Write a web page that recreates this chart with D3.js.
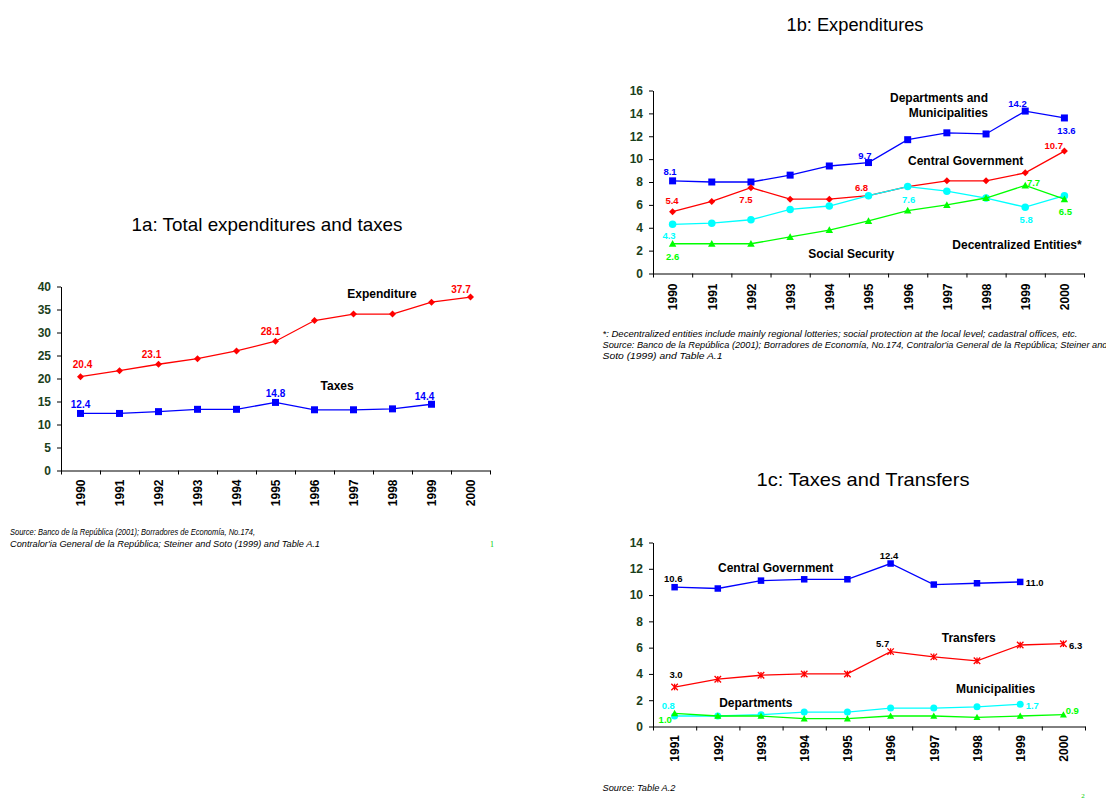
<!DOCTYPE html>
<html>
<head>
<meta charset="utf-8">
<script src="https://cdn.jsdelivr.net/npm/d3@7/dist/d3.min.js"></script>
<style>
  html, body { margin: 0; padding: 0; background: #fff; }
  svg { display: block; font-family: "Liberation Sans", Arial, sans-serif; }
</style>
</head>
<body>
<svg id="page" width="1106" height="800"></svg>
<script>
// ---------- 1a: Total expenditures and taxes (% of GDP) ----------
const years1a = ["1990","1991","1992","1993","1994","1995","1996","1997","1998","1999","2000"];
const expenditure = [20.4, 21.7, 23.1, 24.3, 26.0, 28.1, 32.6, 34.0, 34.0, 36.6, 37.7];
const taxes       = [12.4, 12.4, 12.8, 13.3, 13.3, 14.8, 13.2, 13.2, 13.4, 14.4, null];
const yTicks1a = [0, 5, 10, 15, 20, 25, 30, 35, 40];

// ---------- 1b: Expenditures by level of government ----------
const years1b = ["1990","1991","1992","1993","1994","1995","1996","1997","1998","1999","2000"];
const deptMunicipalities = [8.1, 8.0, 8.0, 8.6, 9.4, 9.7, 11.7, 12.3, 12.2, 14.2, 13.6];
const centralGovExp      = [5.4, 6.3, 7.5, 6.5, 6.5, 6.8, 7.6, 8.1, 8.1, 8.8, 10.7];
const decentralized      = [4.3, 4.4, 4.7, 5.6, 5.9, 6.8, 7.6, 7.2, 6.6, 5.8, 6.8];
const socialSecurity     = [2.6, 2.6, 2.6, 3.2, 3.8, 4.6, 5.5, 6.0, 6.6, 7.7, 6.5];
const yTicks1b = [0, 2, 4, 6, 8, 10, 12, 14, 16];

// ---------- 1c: Taxes and transfers ----------
const years1c = ["1991","1992","1993","1994","1995","1996","1997","1998","1999","2000"];
const centralGovTax  = [10.6, 10.5, 11.1, 11.2, 11.2, 12.4, 10.8, 10.9, 11.0, null];
const transfers      = [3.0, 3.6, 3.9, 4.0, 4.0, 5.7, 5.3, 5.0, 6.2, 6.3];
const municipalities = [0.8, 0.8, 0.9, 1.1, 1.1, 1.4, 1.4, 1.5, 1.7, null];
const departments    = [1.0, 0.8, 0.8, 0.6, 0.6, 0.8, 0.8, 0.7, 0.8, 0.9];
const yTicks1c = [0, 2, 4, 6, 8, 10, 12, 14];

const svg = d3.select("#page");
const TICK_COLOR = "#1b3f1b";

// marker shapes, centred at 0,0
function markerPath(type, s) {
  const r = s / 2;
  switch (type) {
    case "square":   return `M${-r},${-r}H${r}V${r}H${-r}Z`;
    case "diamond":  return `M0,${-r}L${r},0L0,${r}L${-r},0Z`;
    case "triangle": return `M0,${-r}L${r},${r * 0.8}L${-r},${r * 0.8}Z`;
    case "asterisk": return `M${-r},${-r}L${r},${r}M${-r},${r}L${r},${-r}M0,${-r}V${r}`;
    default: return null;
  }
}

function drawChart(cfg) {
  const g = svg.append("g");
  const n = cfg.years.length;
  const x = d3.scaleLinear().domain([-0.5, n - 0.5]).range([cfg.x0, cfg.x1]);
  const y = d3.scaleLinear().domain([0, cfg.yMax]).range([cfg.y0, cfg.y1]);

  // title
  g.append("text")
    .attr("x", cfg.titleX).attr("y", cfg.titleY)
    .attr("text-anchor", "middle")
    .attr("font-size", cfg.titleSize)
    .attr("textLength", cfg.titleLen).attr("lengthAdjust", "spacingAndGlyphs")
    .attr("fill", "#000")
    .text(cfg.title);

  // y axis
  const yAxis = g.append("g")
    .attr("transform", `translate(${cfg.x0},0)`)
    .call(d3.axisLeft(y).tickValues(cfg.yTicks).tickSize(4).tickSizeOuter(0).tickPadding(6));
  yAxis.select(".domain").attr("stroke", "#000");
  yAxis.selectAll(".tick line").attr("stroke", "#000");
  yAxis.selectAll(".tick text")
    .attr("fill", TICK_COLOR).attr("font-size", 12).attr("font-weight", "bold")
    .attr("font-family", "Liberation Sans, Arial, sans-serif");

  // x axis: tick marks on category boundaries
  const xAxis = g.append("g")
    .attr("transform", `translate(0,${cfg.y0})`)
    .call(d3.axisBottom(x).tickValues(d3.range(n + 1).map(i => i - 0.5))
      .tickFormat("").tickSize(4).tickSizeOuter(0));
  xAxis.select(".domain").attr("stroke", "#000");
  xAxis.selectAll(".tick line").attr("stroke", "#000");

  // x axis: rotated year labels at category centres
  const xLab = g.append("g")
    .attr("transform", `translate(0,${cfg.y0})`)
    .call(d3.axisBottom(x).tickValues(d3.range(n)).tickFormat(i => cfg.years[i]).tickSize(0));
  xLab.select(".domain").remove();
  xLab.selectAll(".tick text")
    .attr("transform", "rotate(-90)")
    .attr("text-anchor", "end")
    .attr("x", -cfg.labelGap).attr("y", 0).attr("dy", "0.36em")
    .attr("fill", "#000").attr("font-size", 12).attr("font-weight", "bold")
    .attr("font-family", "Liberation Sans, Arial, sans-serif");

  // series
  cfg.series.forEach(s => {
    const pts = s.values.map((v, i) => ({ i, v })).filter(d => d.v != null);
    const line = d3.line().x(d => x(d.i)).y(d => y(d.v));
    g.append("path").attr("d", line(pts))
      .attr("fill", "none").attr("stroke", s.color).attr("stroke-width", 1.3);
    const mk = g.append("g");
    pts.forEach(d => {
      if (s.marker === "circle") {
        mk.append("circle").attr("cx", x(d.i)).attr("cy", y(d.v)).attr("r", s.size / 2)
          .attr("fill", s.color);
      } else if (s.marker === "asterisk") {
        mk.append("path").attr("transform", `translate(${x(d.i)},${y(d.v)})`)
          .attr("d", markerPath("asterisk", s.size))
          .attr("fill", "none").attr("stroke", s.color).attr("stroke-width", 1.3);
      } else {
        mk.append("path").attr("transform", `translate(${x(d.i)},${y(d.v)})`)
          .attr("d", markerPath(s.marker, s.size)).attr("fill", s.color);
      }
    });
  });

  // value labels
  cfg.valueLabels.forEach(l => {
    const s = cfg.series[l.s];
    const v = s.values[l.i];
    g.append("text")
      .attr("x", x(l.i) + l.dx).attr("y", y(v) + l.dy).attr("dy", "0.36em")
      .attr("text-anchor", l.anchor || "middle")
      .attr("font-size", cfg.valueSize).attr("font-weight", "bold")
      .attr("fill", l.color || s.color)
      .text(v.toFixed(1));
  });

  // series names
  cfg.names.forEach(nm => {
    g.append("text")
      .attr("x", x(nm.at)).attr("y", y(nm.v)).attr("dy", "0.36em")
      .attr("text-anchor", nm.anchor || "middle")
      .attr("font-size", 12).attr("font-weight", "bold").attr("fill", "#000")
      .text(nm.text);
  });

  // notes below chart
  cfg.notes.forEach(nt => {
    const t = g.append("text")
      .attr("x", nt.x).attr("y", nt.y)
      .attr("font-size", 8.5).attr("font-style", "italic").attr("fill", "#000")
      .text(nt.text);
    if (nt.len) t.attr("textLength", nt.len).attr("lengthAdjust", "spacingAndGlyphs");
  });
}

drawChart({
  title: "1a: Total expenditures and taxes", titleX: 267, titleY: 231, titleSize: 19, titleLen: 271,
  years: years1a, x0: 61, x1: 490, y0: 470.5, y1: 286.5, yMax: 40, yTicks: yTicks1a, labelGap: 9,
  valueSize: 10,
  series: [
    { values: expenditure, color: "#ff0000", marker: "diamond", size: 7 },
    { values: taxes, color: "#0000ff", marker: "square", size: 7 }
  ],
  valueLabels: [
    { s: 0, i: 0, dx: 2, dy: -12 },
    { s: 0, i: 2, dx: -7, dy: -10 },
    { s: 0, i: 5, dx: -5, dy: -9.5 },
    { s: 0, i: 10, dx: -9.5, dy: -8 },
    { s: 1, i: 0, dx: 0, dy: -9.5 },
    { s: 1, i: 5, dx: 0, dy: -9 },
    { s: 1, i: 9, dx: -7, dy: -8 }
  ],
  names: [
    { text: "Expenditure", at: 7.73, v: 38.4 },
    { text: "Taxes", at: 6.58, v: 18.4 }
  ],
  notes: [
    { x: 10, y: 535, text: "Source: Banco de la República (2001); Borradores de Economía, No.174,", len: 245 },
    { x: 10, y: 546.5, text: "Contralor'ia General de la República; Steiner and Soto (1999) and Table A.1", len: 310 }
  ]
});

drawChart({
  title: "1b: Expenditures", titleX: 855, titleY: 31, titleSize: 18, titleLen: 137,
  years: years1b, x0: 653, x1: 1084, y0: 273.5, y1: 90.5, yMax: 16, yTicks: yTicks1b, labelGap: 10,
  valueSize: 9.5,
  series: [
    { values: deptMunicipalities, color: "#0000ff", marker: "square", size: 7 },
    { values: centralGovExp, color: "#ff0000", marker: "diamond", size: 7 },
    { values: decentralized, color: "#00ffff", marker: "circle", size: 7.5 },
    { values: socialSecurity, color: "#00ff00", marker: "triangle", size: 7.5 }
  ],
  valueLabels: [
    { s: 0, i: 0, dx: -2.6, dy: -9 },
    { s: 1, i: 0, dx: -0.6, dy: -11.5 },
    { s: 1, i: 2, dx: -5, dy: 11.6 },
    { s: 2, i: 0, dx: -3.6, dy: 11 },
    { s: 3, i: 0, dx: 0, dy: 13 },
    { s: 0, i: 5, dx: -3.6, dy: -7 },
    { s: 1, i: 5, dx: -7, dy: -8 },
    { s: 2, i: 6, dx: 1, dy: 12.7 },
    { s: 0, i: 9, dx: -7.7, dy: -7.4 },
    { s: 0, i: 10, dx: 2, dy: 12.4 },
    { s: 1, i: 10, dx: -10.6, dy: -6 },
    { s: 3, i: 9, dx: 8.3, dy: -3 },
    { s: 2, i: 9, dx: 1, dy: 12.4 },
    { s: 3, i: 10, dx: 1, dy: 12.8 }
  ],
  names: [
    { text: "Departments and", at: 8.05, v: 15.4, anchor: "end" },
    { text: "Municipalities", at: 8.05, v: 14.1, anchor: "end" },
    { text: "Central Government", at: 7.48, v: 9.83 },
    { text: "Social Security", at: 4.56, v: 1.75 },
    { text: "Decentralized Entities*", at: 8.79, v: 2.53 }
  ],
  notes: [
    { x: 602.5, y: 337, text: "*: Decentralized entities include mainly regional lotteries; social protection at the local level;  cadastral offices, etc.", len: 475 },
    { x: 602.5, y: 348, text: "Source: Banco de la República (2001); Borradores de Economía, No.174, Contralor'ia General de la República; Steiner and", len: 505 },
    { x: 602.5, y: 359, text: "Soto (1999) and Table A.1", len: 120 }
  ]
});

drawChart({
  title: "1c: Taxes and Transfers", titleX: 863, titleY: 486, titleSize: 19, titleLen: 213,
  years: years1c, x0: 653, x1: 1085, y0: 726.5, y1: 542.5, yMax: 14, yTicks: yTicks1c, labelGap: 8.5,
  valueSize: 9.5,
  series: [
    { values: centralGovTax, color: "#0000ff", marker: "square", size: 6.5 },
    { values: transfers, color: "#ff0000", marker: "asterisk", size: 6.5 },
    { values: municipalities, color: "#00ffff", marker: "circle", size: 7 },
    { values: departments, color: "#00ff00", marker: "triangle", size: 7 }
  ],
  valueLabels: [
    { s: 0, i: 0, dx: -1.3, dy: -8.4, color: "#000" },
    { s: 0, i: 5, dx: -1.6, dy: -8, color: "#000" },
    { s: 0, i: 8, dx: 5.5, dy: 0.5, anchor: "start", color: "#000" },
    { s: 1, i: 0, dx: 1.4, dy: -12.6, color: "#000" },
    { s: 1, i: 5, dx: -8, dy: -8, color: "#000" },
    { s: 1, i: 9, dx: 5.6, dy: 1.8, anchor: "start", color: "#000" },
    { s: 2, i: 0, dx: -6.3, dy: -10.5 },
    { s: 3, i: 0, dx: -16, dy: 6.4, anchor: "start" },
    { s: 2, i: 8, dx: 5.5, dy: 1.6, anchor: "start" },
    { s: 3, i: 9, dx: 2.3, dy: -4, anchor: "start" }
  ],
  names: [
    { text: "Central Government", at: 2.34, v: 12.1 },
    { text: "Transfers", at: 6.81, v: 6.77 },
    { text: "Departments", at: 1.88, v: 1.78 },
    { text: "Municipalities", at: 7.43, v: 2.87 }
  ],
  notes: [
    { x: 602.5, y: 791, text: "Source: Table A.2", len: 73 }
  ]
});

// page numbers
svg.append("text").attr("x", 492).attr("y", 547).attr("text-anchor", "middle")
  .attr("font-size", 8).attr("font-family", "Liberation Serif, serif").attr("fill", "#00cc00").text("1");
svg.append("text").attr("x", 1083).attr("y", 798).attr("text-anchor", "middle")
  .attr("font-size", 7).attr("font-family", "Liberation Serif, serif").attr("fill", "#00cc00").text("2");
</script>
</body>
</html>
